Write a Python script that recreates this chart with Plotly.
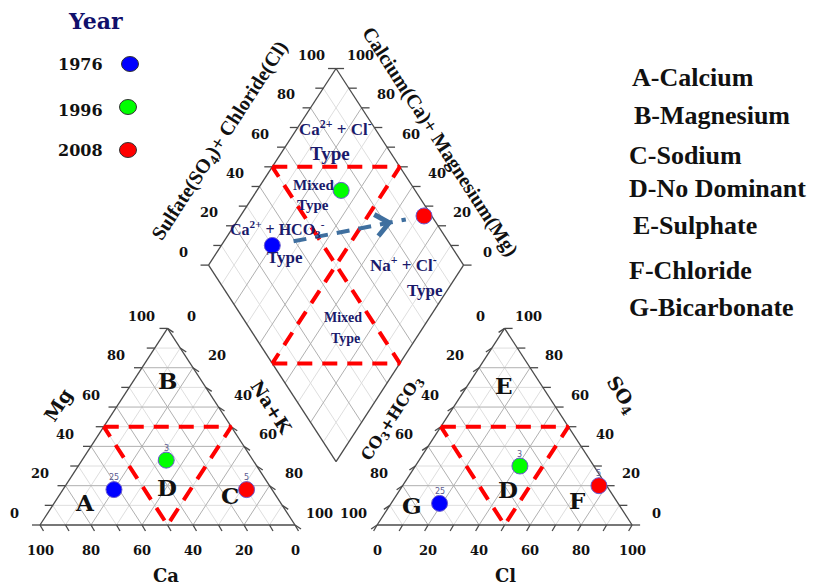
import math
import plotly.graph_objects as go

# ---------------- data ----------------
years = ["1976", "1996", "2008"]
sample_counts = [25, 3, 5]
point_colors = ["#0000ff", "#00ff00", "#ff0000"]
# cations (% meq/L)
ca_pct = [62, 34, 10]
mg_pct = [18, 33, 18]
nak_pct = [20, 33, 72]
# anions (% meq/L)
hco3_pct = [70, 29, 3]
so4_pct = [11, 30, 20]
cl_pct = [19, 41, 77]

tick_values = [0, 20, 40, 60, 80, 100]
facies_legend = ["A-Calcium", "B-Magnesium", "C-Sodium", "D-No Dominant",
                 "E-Sulphate", "F-Chloride", "G-Bicarbonate"]

# ---------------- geometry ----------------
H = math.sqrt(3) / 2
GAP = 32.2
OFF = 100 + GAP
W, HT = 814, 586
X0, Y0 = 40, 525          # pixel position of the cation triangle's Ca=100 corner
SX, SY = 2.55, 2.27       # pixels per unit


def cation_xy(ca, mg, nak):
    return nak + mg / 2, mg * H


def anion_xy(hco3, so4, cl):
    return OFF + cl + so4 / 2, so4 * H


def diamond_xy(a, b):
    # a = Ca+Mg, b = SO4+Cl
    return 100 + GAP / 2 + (b - a) / 2, GAP * H + (a + b) * H


def pxoff(dx, dy):
    return dx / SX, -dy / SY


def paper(xp, yp):
    return xp / W, 1 - yp / HT


def segs_to_xy(segs):
    xs, ys = [], []
    for (p, q) in segs:
        xs += [p[0], q[0], None]
        ys += [p[1], q[1], None]
    return xs, ys


# ---------------- grid ----------------
minor, major = [], []
for v in range(10, 100, 10):
    bucket = major if v % 20 == 0 else minor
    # cation triangle
    bucket.append((cation_xy(100 - v, v, 0), cation_xy(0, v, 100 - v)))
    bucket.append((cation_xy(v, 100 - v, 0), cation_xy(v, 0, 100 - v)))
    bucket.append((cation_xy(100 - v, 0, v), cation_xy(0, 100 - v, v)))
    # anion triangle
    bucket.append((anion_xy(100 - v, v, 0), anion_xy(0, v, 100 - v)))
    bucket.append((anion_xy(v, 100 - v, 0), anion_xy(v, 0, 100 - v)))
    bucket.append((anion_xy(100 - v, 0, v), anion_xy(0, 100 - v, v)))
    # diamond
    bucket.append((diamond_xy(v, 0), diamond_xy(v, 100)))
    bucket.append((diamond_xy(0, v), diamond_xy(100, v)))

outline = [
    (cation_xy(100, 0, 0), cation_xy(0, 0, 100)),
    (cation_xy(0, 0, 100), cation_xy(0, 100, 0)),
    (cation_xy(0, 100, 0), cation_xy(100, 0, 0)),
    (anion_xy(100, 0, 0), anion_xy(0, 0, 100)),
    (anion_xy(0, 0, 100), anion_xy(0, 100, 0)),
    (anion_xy(0, 100, 0), anion_xy(100, 0, 0)),
    (diamond_xy(0, 0), diamond_xy(100, 0)),
    (diamond_xy(100, 0), diamond_xy(100, 100)),
    (diamond_xy(100, 100), diamond_xy(0, 100)),
    (diamond_xy(0, 100), diamond_xy(0, 0)),
]

ticks = []


def add_ticks(fn, d):
    ox, oy = pxoff(*d)
    for v in range(0, 101, 10):
        x, y = fn(v)
        ticks.append(((x, y), (x + ox, y + oy)))


add_ticks(lambda v: cation_xy(v, 0, 100 - v), (3.5, 6))
add_ticks(lambda v: cation_xy(100 - v, v, 0), (-8, 0))
add_ticks(lambda v: cation_xy(0, 100 - v, v), (6, 4))
add_ticks(lambda v: anion_xy(100 - v, 0, v), (-3.5, 6))
add_ticks(lambda v: anion_xy(v, 100 - v, 0), (-6, 4))
add_ticks(lambda v: anion_xy(0, v, 100 - v), (8, 0))
add_ticks(lambda v: diamond_xy(100, v), (-8, 0))
add_ticks(lambda v: diamond_xy(v, 100), (8, 0))

fig = go.Figure()
for segs, col in ((minor, "#dedede"), (major, "#b0b0b0")):
    xs, ys = segs_to_xy(segs)
    fig.add_trace(go.Scatter(x=xs, y=ys, mode="lines", line=dict(color=col, width=1),
                             hoverinfo="skip", showlegend=False))
for segs in (outline, ticks):
    xs, ys = segs_to_xy(segs)
    fig.add_trace(go.Scatter(x=xs, y=ys, mode="lines", line=dict(color="#4a4a4a", width=1.3),
                             hoverinfo="skip", showlegend=False))

# ---------------- facies boundaries (dashed) ----------------
facies_polys = [
    [cation_xy(50, 50, 0), cation_xy(0, 50, 50), cation_xy(50, 0, 50), cation_xy(50, 50, 0)],
    [anion_xy(50, 50, 0), anion_xy(0, 50, 50), anion_xy(50, 0, 50), anion_xy(50, 50, 0)],
    [diamond_xy(100, 50), diamond_xy(50, 100), diamond_xy(50, 50), diamond_xy(100, 50)],
    [diamond_xy(50, 0), diamond_xy(0, 50), diamond_xy(50, 50), diamond_xy(50, 0)],
]
for poly in facies_polys:
    fig.add_trace(go.Scatter(x=[p[0] for p in poly], y=[p[1] for p in poly], mode="lines",
                             line=dict(color="#ff0000", width=4, dash="15px,10px"),
                             hoverinfo="skip", showlegend=False))

# ---------------- evolution arrow in the diamond ----------------
d_pts = [diamond_xy(ca_pct[i] + mg_pct[i], so4_pct[i] + cl_pct[i]) for i in range(3)]
p0, p1 = d_pts[0], d_pts[2]


def lerp(t):
    return p0[0] + t * (p1[0] - p0[0]), p0[1] + t * (p1[1] - p0[1])


a_start, a_end, tip = lerp(0.14), lerp(0.88), lerp(0.77)
arrow_col = "#3f6f9f"
fig.add_trace(go.Scatter(x=[a_start[0], a_end[0]], y=[a_start[1], a_end[1]], mode="lines",
                         line=dict(color=arrow_col, width=4, dash="13px,9px"),
                         hoverinfo="skip", showlegend=False))
ux, uy = (p1[0] - p0[0]) * SX, -(p1[1] - p0[1]) * SY
ul = math.hypot(ux, uy)
ux, uy = ux / ul, uy / ul
barbs_x, barbs_y = [], []
for ang in (40, -40):
    r = math.radians(ang)
    bx = -(ux * math.cos(r) - uy * math.sin(r)) * 17
    by = -(ux * math.sin(r) + uy * math.cos(r)) * 17
    ox, oy = pxoff(bx, by)
    barbs_x += [tip[0] + ox, tip[0], None]
    barbs_y += [tip[1] + oy, tip[1], None]
fig.add_trace(go.Scatter(x=barbs_x, y=barbs_y, mode="lines",
                         line=dict(color=arrow_col, width=5), hoverinfo="skip", showlegend=False))

# ---------------- samples ----------------
annotations = []
for i, yr in enumerate(years):
    c = cation_xy(ca_pct[i], mg_pct[i], nak_pct[i])
    a = anion_xy(hco3_pct[i], so4_pct[i], cl_pct[i])
    d = d_pts[i]
    fig.add_trace(go.Scatter(x=[c[0], a[0], d[0]], y=[c[1], a[1], d[1]], mode="markers",
                             name=yr, showlegend=False,
                             marker=dict(size=16, color=point_colors[i],
                                         line=dict(color="#6a5acd", width=1))))
    for p in (c, a):
        annotations.append(dict(x=p[0], y=p[1], text=str(sample_counts[i]), showarrow=False,
                                yshift=12, font=dict(family="DejaVu Sans", size=8, color="#5a5a90")))

# ---------------- tick labels ----------------
TICKFONT = dict(family="DejaVu Serif", size=13, color="#111111", weight="bold")


def add_labels(fn, dx, dy):
    for v in tick_values:
        x, y = fn(v)
        annotations.append(dict(x=x, y=y, text=str(v), showarrow=False, xshift=dx, yshift=-dy,
                                font=TICKFONT))


add_labels(lambda v: cation_xy(v, 0, 100 - v), 0, 25)
add_labels(lambda v: cation_xy(100 - v, v, 0), -26, -12)
add_labels(lambda v: cation_xy(0, 100 - v, v), 24, -12)
add_labels(lambda v: anion_xy(100 - v, 0, v), 0, 25)
add_labels(lambda v: anion_xy(v, 100 - v, 0), -24, -12)
add_labels(lambda v: anion_xy(0, v, 100 - v), 24, -12)
add_labels(lambda v: diamond_xy(100, v), -25, -13)
add_labels(lambda v: diamond_xy(v, 100), 24, -13)


def ptext(xp, yp, text, size, family="DejaVu Serif", color="#111111", angle=0, anchor="center"):
    x, y = paper(xp, yp)
    annotations.append(dict(x=x, y=y, xref="paper", yref="paper", text=text, showarrow=False,
                            textangle=angle, xanchor=anchor, yanchor="middle",
                            font=dict(family=family, size=size, color=color, weight="bold")))


# axis titles
ptext(166, 575, "Ca", 18)
ptext(505, 575, "Cl", 18)
ptext(58, 405, "Mg", 19, angle=-57)
ptext(272, 407, "Na+K", 18, angle=57)
ptext(392, 418, "CO<sub>3</sub>+HCO<sub>3</sub>", 16, angle=-57)
ptext(622, 395, "SO<sub>4</sub>", 19, angle=57)
ptext(220, 141, "Sulfate(SO<sub>4</sub>)+ Chloride(Cl)", 20, family="Liberation Serif", angle=-57)
ptext(441, 142, "Calcium(Ca)+ Magnesium(Mg)", 20, family="Liberation Serif", angle=57)

# facies letters
for (xp, yp, t) in [(85, 502, "A"), (167, 380, "B"), (230, 495, "C"), (167, 487, "D"),
                    (504, 385, "E"), (508, 489, "D"), (577, 500, "F"), (412, 505, "G")]:
    ptext(xp, yp, t, 23)

# diamond water types
NAVY = "#1a1a6b"
for (xp, yp, t, s) in [(335, 128, "Ca<sup>2+</sup> + Cl<sup>-</sup>", 17), (330, 153, "Type", 19),
                       (313, 185, "Mixed", 15), (313, 205, "Type", 15),
                       (277, 229, "Ca<sup>2+</sup> + HCO<sub>3</sub><sup>-</sup>", 16), (285, 257, "Type", 17),
                       (403, 264, "Na<sup>+</sup> + Cl<sup>-</sup>", 17), (425, 291, "Type", 17),
                       (343, 317, "Mixed", 14), (345, 338, "Type", 14)]:
    ptext(xp, yp, t, s, family="Liberation Serif", color=NAVY)

# year legend
ptext(95, 21, "Year", 22, color="#10106b")
shapes = []
for i, (yp, dyp) in enumerate([(65, 64), (110, 107), (150, 150)]):
    ptext(80, yp, years[i], 16)
    cx = [130, 128, 128][i]
    x0, y0 = paper(cx - 8.5, dyp - 7.5)
    x1, y1 = paper(cx + 8.5, dyp + 7.5)
    shapes.append(dict(type="circle", xref="paper", yref="paper", x0=x0, x1=x1, y0=y1, y1=y0,
                       fillcolor=point_colors[i], line=dict(color="#333333", width=1)))

# facies legend
for (xp, yp), t in zip([(630, 78), (632, 115), (627, 155), (627, 188), (631, 225), (627, 270), (627, 307)],
                       facies_legend):
    ptext(xp, yp, t, 26, family="Liberation Serif", anchor="left")

fig.update_layout(
    width=W, height=HT, margin=dict(l=0, r=0, t=0, b=0),
    paper_bgcolor="white", plot_bgcolor="white",
    xaxis=dict(range=[-X0 / SX, (W - X0) / SX], visible=False, fixedrange=True),
    yaxis=dict(range=[(Y0 - HT) / SY, Y0 / SY], visible=False, fixedrange=True),
    annotations=annotations, shapes=shapes, showlegend=False,
)
fig.write_html("out.html")
